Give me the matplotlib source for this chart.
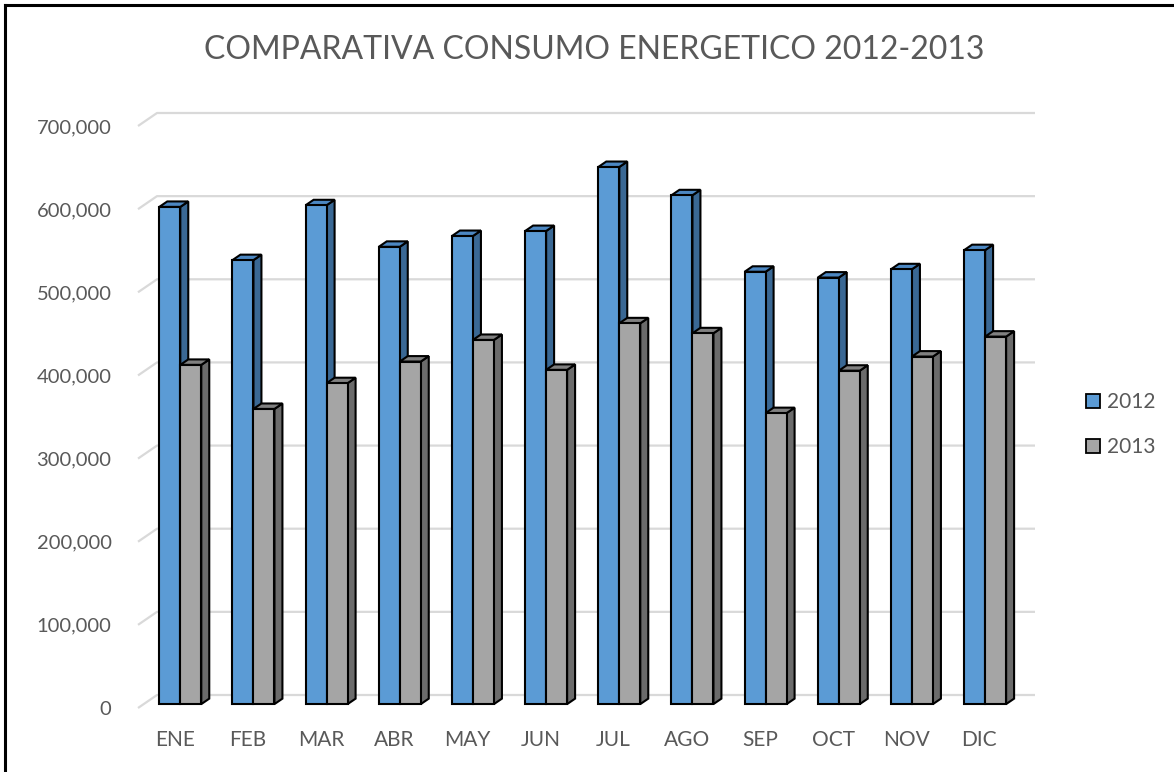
import matplotlib
matplotlib.use("Agg")
import matplotlib.pyplot as plt
from matplotlib.patches import Polygon
from matplotlib.lines import Line2D
import numpy as np

plt.rcParams["font.family"] = ["Lato", "DejaVu Sans"]

# ------------------ DATA ------------------
months = ["ENE", "FEB", "MAR", "ABR", "MAY", "JUN",
          "JUL", "AGO", "SEP", "OCT", "NOV", "DIC"]
consumo_2012 = [598000, 534000, 600000, 550000, 563000, 569000,
                646000, 612000, 520000, 513000, 523000, 546000]
consumo_2013 = [408000, 355000, 386000, 412000, 438000, 402000,
                458000, 446000, 350000, 401000, 418000, 442000]
y_ticks = [0, 100000, 200000, 300000, 400000, 500000, 600000, 700000]
series_names = ["2012", "2013"]

# colours: front, side, top
blue = ("#5B9BD5", "#3A6894", "#4C87C2")
gray = ("#A5A5A5", "#6B6B6B", "#808080")
text_col = "#595959"

# 3d look: full depth of the plot in data units
DX = 19 / (878 / 12)
DY = 13 / (582 / 700000)
f_front, f_back = 0.30, 0.72
bar_w = 0.287

fig = plt.figure(figsize=(11.74, 7.72), dpi=100)
ax = fig.add_axes([138 / 1174, 64 / 772, 878 / 1174, 582 / 772])
ax.set_xlim(-0.5, 11.5)
ax.set_ylim(0, 700000)
for s in ax.spines.values():
    s.set_visible(False)

# gridlines on the back wall with a diagonal to the front
for v in y_ticks:
    ax.plot([-0.5, -0.5 + DX, 11.5 + DX], [v, v + DY, v + DY],
            color="#D9D9D9", lw=1.6, zorder=0, clip_on=False,
            solid_capstyle="butt")


def draw_bar(left, h, cols, z):
    right = left + bar_w
    ox0, oy0 = f_front * DX, f_front * DY
    ox1, oy1 = f_back * DX, f_back * DY
    front = [(left + ox0, oy0), (right + ox0, oy0),
             (right + ox0, h + oy0), (left + ox0, h + oy0)]
    side = [(right + ox0, oy0), (right + ox1, oy1),
            (right + ox1, h + oy1), (right + ox0, h + oy0)]
    top = [(left + ox0, h + oy0), (right + ox0, h + oy0),
           (right + ox1, h + oy1), (left + ox1, h + oy1)]
    for pts, c in [(side, cols[1]), (top, cols[2]), (front, cols[0])]:
        ax.add_patch(Polygon(pts, closed=True, facecolor=c,
                             edgecolor="black", lw=1.5,
                             joinstyle="miter", zorder=z, clip_on=False))


x = np.arange(len(months))
for i in range(len(months)):
    draw_bar(x[i] - bar_w, consumo_2012[i], blue, 2 + i * 2)
    draw_bar(x[i], consumo_2013[i], gray, 3 + i * 2)

ax.set_xticks(x)
ax.set_xticklabels(months)
ax.set_yticks(y_ticks)
ax.set_yticklabels([f"{v:,}" for v in y_ticks])
ax.tick_params(axis="y", length=0, pad=19, labelsize=14.5, labelcolor=text_col)
ax.tick_params(axis="x", length=0, pad=16, labelsize=15, labelcolor=text_col)

fig.text(594 / 1174, 1 - 50 / 772, "COMPARATIVA CONSUMO ENERGETICO 2012-2013",
         ha="center", va="center", fontsize=23, color=text_col)

handles = [Line2D([], [], marker="s", ls="none", markersize=9.5,
                  markerfacecolor=blue[0], markeredgecolor="black", markeredgewidth=1.3),
           Line2D([], [], marker="s", ls="none", markersize=9.5,
                  markerfacecolor=gray[0], markeredgecolor="black", markeredgewidth=1.3)]
fig.legend(handles, series_names, loc="center left",
           bbox_to_anchor=(1086 / 1174, 1 - 425 / 772), frameon=False,
           fontsize=15, labelcolor=text_col, handlelength=0.7,
           handletextpad=0.3, labelspacing=1.2, borderpad=0, borderaxespad=0)

# chart frame (top and left edges only are visible)
fig.add_artist(Line2D([5 / 1174, 1], [1 - 5 / 772, 1 - 5 / 772],
                      transform=fig.transFigure, color="black", lw=2.2))
fig.add_artist(Line2D([5 / 1174, 5 / 1174], [0, 1 - 5 / 772],
                      transform=fig.transFigure, color="black", lw=2.2))

fig.savefig("out.png", dpi=100)
